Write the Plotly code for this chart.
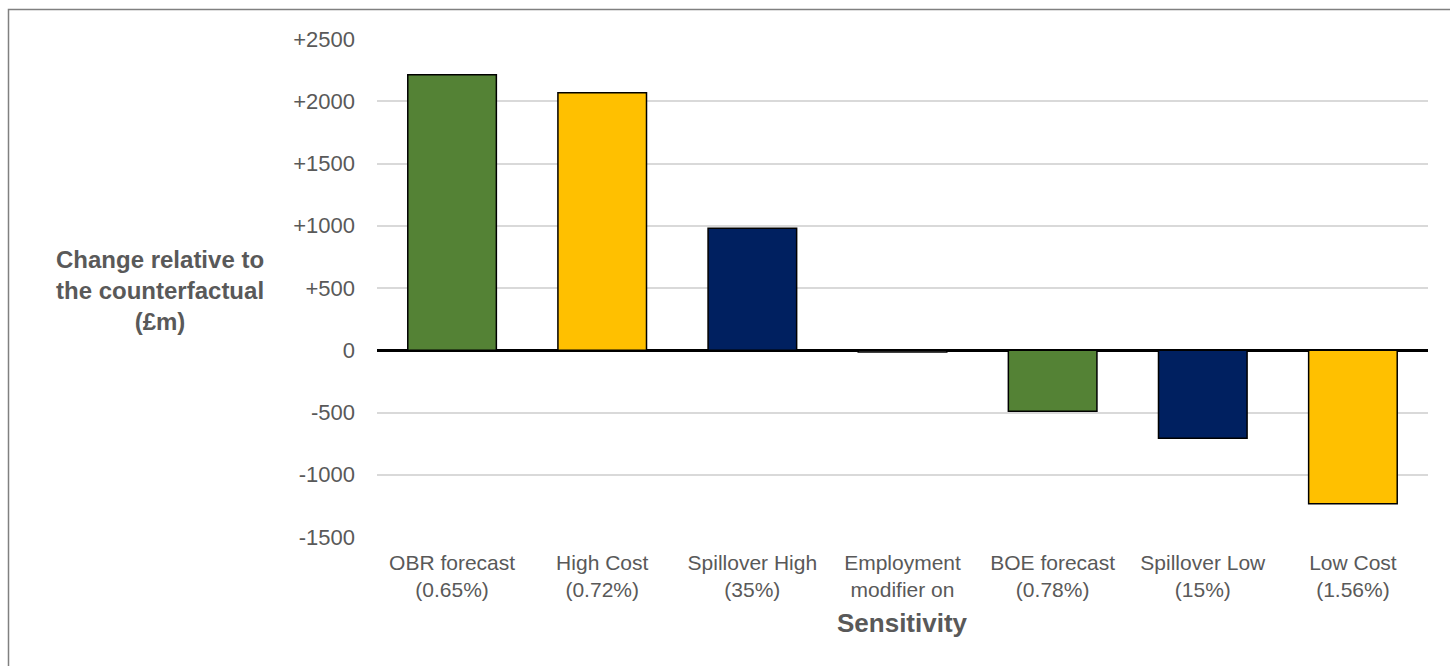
import plotly.graph_objects as go

categories = ["OBR forecast<br>(0.65%)", "High Cost<br>(0.72%)", "Spillover High<br>(35%)",
              "Employment<br>modifier on", "BOE forecast<br>(0.78%)", "Spillover Low<br>(15%)",
              "Low Cost<br>(1.56%)"]
values = [2212, 2068, 980, -14, -490, -706, -1232]
bar_colors = ["#548235", "#FFC000", "#002060", "#7F7F7F", "#548235", "#002060", "#FFC000"]
y_tickvals = [2500, 2000, 1500, 1000, 500, 0, -500, -1000, -1500]
y_ticktext = ["+2500", "+2000", "+1500", "+1000", "+500", "0", "-500", "-1000", "-1500"]

W, H = 1450, 666
L, R, T, B = 377, 1428, 39, 537

fig = go.Figure(go.Bar(
    x=categories, y=values,
    marker=dict(color=bar_colors, line=dict(color="#000000", width=1.5)),
    width=0.59,
))

txt = "#595959"
fig.update_layout(
    width=W, height=H,
    margin=dict(l=L, r=W - R, t=T, b=H - B),
    paper_bgcolor="white", plot_bgcolor="white",
    showlegend=False,
    font=dict(family="Liberation Sans, Arial, sans-serif", color=txt, size=21),
    xaxis=dict(showgrid=False, showline=False, ticks="", tickfont=dict(size=21, color=txt),
               range=[-0.5, 6.5], ticklabelstandoff=11),
    yaxis=dict(range=[-1500, 2500], tickvals=y_tickvals, ticktext=y_ticktext,
               showgrid=True, gridcolor="#D9D9D9", gridwidth=1.5,
               zeroline=True, zerolinecolor="#000000", zerolinewidth=2.5,
               showline=False, ticks="", tickfont=dict(size=22, color=txt),
               ticklabelstandoff=21),
    annotations=[
        dict(text="<b>Change relative to<br>the counterfactual<br>(£m)</b>",
             xref="paper", yref="paper",
             x=(160 - L) / (R - L), y=(B - 290) / (B - T),
             xanchor="center", yanchor="middle", showarrow=False, align="center",
             font=dict(size=24, color=txt)),
        dict(text="<b>Sensitivity</b>", xref="paper", yref="paper",
             x=(902 - L) / (R - L), y=(B - 623) / (B - T),
             xanchor="center", yanchor="middle", showarrow=False,
             font=dict(size=26, color=txt)),
    ],
    shapes=[dict(type="rect", xref="paper", yref="paper",
                 x0=(8.5 - L) / (R - L), x1=(1460 - L) / (R - L),
                 y0=(B - 680) / (B - T), y1=(B - 9.5) / (B - T),
                 line=dict(color="#808080", width=1.5), layer="below")],
)

fig.write_html("out.html")
